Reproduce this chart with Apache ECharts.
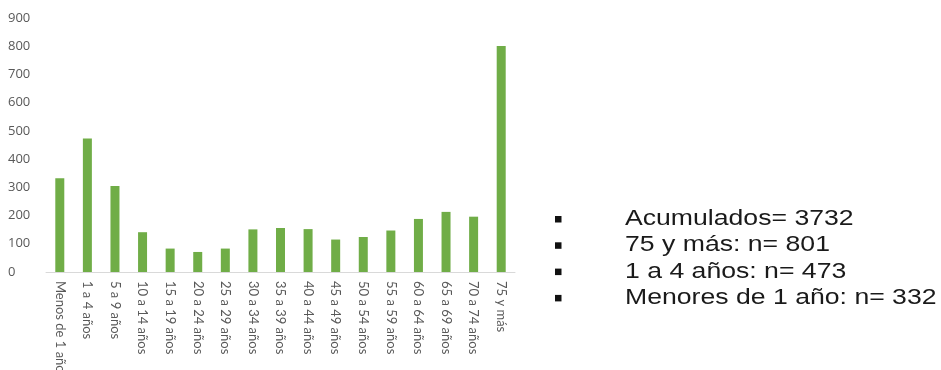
<!DOCTYPE html>
<html>
<head>
<meta charset="utf-8">
<script src="https://cdn.jsdelivr.net/npm/echarts@6/dist/echarts.min.js"></script>
<style>
  html, body { margin: 0; padding: 0; background: #fff; }
  #chart { width: 941px; height: 370px; }
</style>
</head>
<body>
<div id="chart"></div>
<script>
// Age groups and case counts
const ageGroups = [
  'Menos de 1 año', '1 a 4 años', '5 a 9 años', '10 a 14 años', '15 a 19 años',
  '20 a 24 años', '25 a 29 años', '30 a 34 años', '35 a 39 años', '40 a 44 años',
  '45 a 49 años', '50 a 54 años', '55 a 59 años', '60 a 64 años', '65 a 69 años',
  '70 a 74 años', '75 y más'
];
const cases = [332, 473, 305, 141, 83, 71, 83, 151, 156, 152, 115, 124, 147, 188, 213, 196, 801];
const yTicks = [0, 100, 200, 300, 400, 500, 600, 700, 800, 900];

// Summary notes shown beside the chart
const notes = [
  'Acumulados= 3732',
  '75 y más: n= 801',
  '1 a 4 años: n= 473',
  'Menores de 1 año: n= 332'
];

const chart = echarts.init(document.getElementById('chart'), null, { renderer: 'canvas' });

const noteElements = [];
notes.forEach((t, i) => {
  const y = 219 + i * 26.3;
  noteElements.push({
    type: 'rect',
    shape: { x: 555, y: y - 3, width: 6.5, height: 6.5 },
    style: { fill: '#111' }
  });
  noteElements.push({
    type: 'text',
    x: 625, y: y,
    scaleX: 1.21,
    style: {
      text: t,
      font: '22px "Liberation Sans", Arial, sans-serif',
      fill: '#1a1a1a',
      verticalAlign: 'middle',
      align: 'left'
    }
  });
});

chart.setOption({
  animation: false,
  backgroundColor: '#ffffff',
  grid: {
    left: 46, right: 426, top: 18, bottom: 98,
    containLabel: false,
    outerBoundsMode: 'none'
  },
  xAxis: {
    type: 'category',
    data: ageGroups,
    axisLine: { show: true, lineStyle: { color: '#d9d9d9', width: 1 } },
    axisTick: { show: false },
    axisLabel: {
      rotate: -90,
      interval: 0,
      margin: 9,
      color: '#595959',
      fontSize: 13,
      overflow: 'none',
      fontFamily: 'Lato, "Open Sans", sans-serif'
    }
  },
  yAxis: {
    type: 'value',
    min: yTicks[0],
    max: yTicks[yTicks.length - 1],
    interval: 100,
    splitLine: { show: false },
    axisLine: { show: false },
    axisTick: { show: false },
    axisLabel: {
      color: '#595959',
      fontSize: 13,
      fontFamily: '"Open Sans", Lato, sans-serif',
      align: 'left',
      margin: 38
    }
  },
  series: [{
    type: 'bar',
    data: cases,
    barWidth: 9,
    itemStyle: { color: '#70ad47' }
  }],
  graphic: noteElements
});
</script>
</body>
</html>
